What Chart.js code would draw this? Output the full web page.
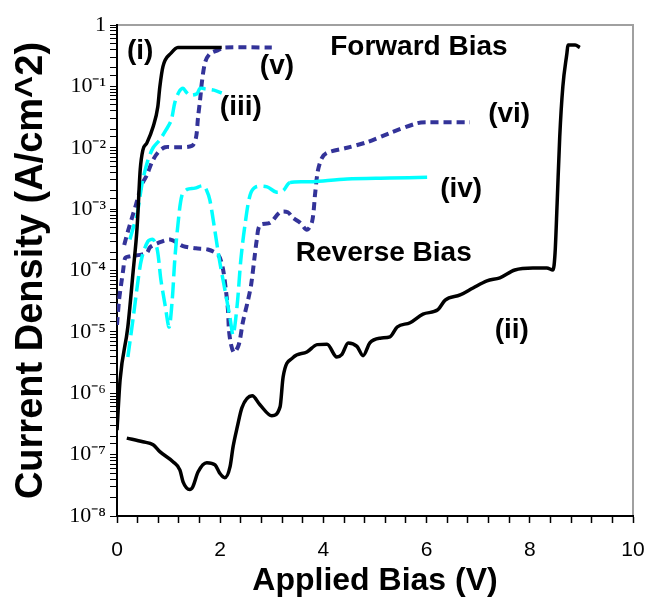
<!DOCTYPE html>
<html>
<head>
<meta charset="utf-8">
<script src="https://cdn.jsdelivr.net/npm/chart.js@4.4.1/dist/chart.umd.min.js"></script>
<style>
  body { margin: 0; background: #fff; }
  #wrap { width: 647px; height: 600px; }
</style>
</head>
<body>
<div id="wrap"><canvas id="grafico"></canvas></div>
<script>
// Curva (i) - forward, preta
const biasI = [0, 0.06, 0.21, 0.31, 0.39, 0.45, 0.50, 0.58, 0.70, 0.79, 0.83, 0.89, 1.05, 1.18, 2.03];
const densI = [2.5e-7, 1.66e-6, 1.2e-5, 9.1e-5, 5.1e-4, 4.4e-3, 9.1e-3, 1.2e-2, 2.2e-2, 4.6e-2, 9.8e-2, 0.21, 0.35, 0.43, 0.43];

// Curva (ii) - reverse, preta
const biasII = [0.19, 0.50, 0.70, 0.83, 1.09, 1.22, 1.28, 1.41, 1.47, 1.57, 1.74, 1.90, 1.99, 2.09, 2.19, 2.25, 2.33, 2.42, 2.62, 2.77,
  3.00, 3.16, 3.22, 3.41, 3.68, 3.88, 4.07, 4.26, 4.36, 4.48, 4.65, 4.77, 4.90, 5.10, 5.29, 5.43, 5.68, 5.93, 6.22, 6.36,
  6.65, 6.90, 7.17, 7.42, 7.71, 8.06, 8.33, 8.45, 8.49, 8.53, 8.58, 8.64, 8.72, 8.74, 8.88, 8.97];
const densII = [1.86e-7, 1.62e-7, 1.45e-7, 1.12e-7, 7.6e-8, 5.6e-8, 3.6e-8, 2.7e-8, 3.0e-8, 5.2e-8, 7.4e-8, 6.8e-8, 5.0e-8, 4.2e-8, 6.3e-8, 1.35e-7, 2.8e-7, 5.8e-7, 9.1e-7, 6.5e-7,
  4.3e-7, 6.0e-7, 1.86e-6, 3.8e-6, 4.7e-6, 6.2e-6, 6.3e-6, 3.9e-6, 4.3e-6, 6.6e-6, 5.8e-6, 4.1e-6, 6.6e-6, 7.9e-6, 8.3e-6, 1.2e-5, 1.41e-5, 1.95e-5, 2.3e-5, 3.3e-5,
  4.0e-5, 5.2e-5, 6.8e-5, 7.6e-5, 1.02e-4, 1.1e-4, 1.1e-4, 1.02e-4, 1.95e-4, 1.26e-3, 1.5e-2, 9.8e-2, 0.35, 0.47, 0.47, 0.43];

// Curva (iii) - forward, ciano
const biasIII = [0.25, 0.33, 0.39, 0.45, 0.50, 0.60, 0.70, 0.83, 0.95, 1.05, 1.12, 1.20, 1.28, 1.34, 1.41, 1.55, 1.61, 1.71, 1.88, 2.03];
const densIII = [3.2e-4, 5.5e-4, 8.1e-4, 1.7e-3, 3.0e-3, 6.3e-3, 1.0e-2, 1.35e-2, 1.95e-2, 2.8e-2, 5.4e-2, 8.1e-2, 9.3e-2, 8.1e-2, 7.2e-2, 7.6e-2, 9.3e-2, 9.1e-2, 8.7e-2, 7.8e-2];

// Curva (iv) - reverse, ciano
const biasIV = [0.21, 0.31, 0.41, 0.48, 0.60, 0.70, 0.78, 0.85, 0.93, 1.01, 1.07, 1.12, 1.18, 1.26, 1.36, 1.51, 1.67, 1.74, 1.80, 1.88,
  1.99, 2.11, 2.19, 2.25, 2.33, 2.40, 2.48, 2.58, 2.69, 2.91, 3.08, 3.22, 3.35, 3.80, 4.46, 5.29, 6.01];
const densIV = [3.9e-6, 1.6e-5, 7.1e-5, 1.6e-4, 3.0e-4, 3.2e-4, 2.2e-4, 7.1e-5, 2.8e-5, 1.2e-5, 3.3e-5, 1.5e-4, 5.5e-4, 1.7e-3, 2.1e-3, 2.2e-3, 2.4e-3, 2.0e-3, 1.4e-3, 5.5e-4,
  1.4e-4, 4.0e-5, 1.7e-5, 8.9e-6, 2.8e-5, 1.5e-4, 5.5e-4, 1.7e-3, 2.3e-3, 2.3e-3, 1.9e-3, 2.0e-3, 2.7e-3, 2.8e-3, 3.1e-3, 3.2e-3, 3.3e-3];

// Curva (v) - forward, azul
const biasV = [0.14, 0.21, 0.29, 0.37, 0.48, 0.58, 0.68, 0.79, 0.93, 1.12, 1.45, 1.53, 1.57, 1.61, 1.65, 1.71, 1.80, 1.96, 2.09, 3.00];
const densV = [2.6e-4, 4.3e-4, 7.2e-4, 1.2e-3, 2.5e-3, 3.6e-3, 5.9e-3, 8.3e-3, 1.02e-2, 1.02e-2, 1.07e-2, 1.45e-2, 3.1e-2, 6.0e-2, 0.126, 0.25, 0.34, 0.39, 0.43, 0.43];

// Curva (vi) - reverse, azul
const biasVI = [0, 0.04, 0.08, 0.12, 0.16, 0.25, 0.45, 0.58, 0.64, 0.79, 1.03, 1.28, 1.53, 1.76, 1.96, 2.05, 2.11, 2.15, 2.17, 2.21,
  2.27, 2.36, 2.44, 2.54, 2.60, 2.66, 2.71, 2.77, 2.97, 3.16, 3.31, 3.41, 3.55, 3.68, 3.78, 3.84, 3.89, 3.97, 4.07, 4.46,
  4.84, 5.29, 5.81, 6.01, 6.84];
const densVI = [1.3e-5, 3.3e-5, 5.9e-5, 1.02e-4, 1.6e-4, 1.7e-4, 1.8e-4, 1.95e-4, 2.4e-4, 2.8e-4, 3.2e-4, 2.5e-4, 2.3e-4, 2.2e-4, 1.8e-4, 1.1e-4, 4.8e-5, 2.3e-5, 1.07e-5, 6.2e-6,
  4.6e-6, 6.2e-6, 1.45e-5, 3.3e-5, 5.9e-5, 1.5e-4, 3.2e-4, 5.5e-4, 6.0e-4, 8.9e-4, 8.9e-4, 7.2e-4, 6.0e-4, 4.6e-4, 6.2e-4, 1.8e-3, 4.1e-3, 6.8e-3, 8.3e-3, 1.0e-2,
  1.23e-2, 1.74e-2, 2.5e-2, 2.6e-2, 2.6e-2];

// Textos dentro do gráfico
const notaTexto = ['(i)', '(v)', '(iii)', 'Forward Bias', '(vi)', '(iv)', 'Reverse Bias', '(ii)'];
const notaX = [0.45, 3.10, 2.40, 5.85, 7.60, 6.67, 5.17, 7.65];
const notaY = [0.38, 0.21, 0.046, 0.44, 0.035, 2.1e-3, 1.9e-4, 1.07e-5];

// Rótulos do eixo Y
const potencias = ['1', '10⁻¹', '10⁻²', '10⁻³', '10⁻⁴', '10⁻⁵', '10⁻⁶', '10⁻⁷', '10⁻⁸'];

function pontos(xs, ys) {
  return xs.map((x, i) => ({ x: x, y: ys[i] }));
}

const PRETO = '#000000';
const CIANO = '#00FFFF';
const AZUL = '#333399';

const moldura = { // borda cinza da área do gráfico
  id: 'moldura',
  beforeDraw(chart) {
    const a = chart.chartArea;
    const ctx = chart.ctx;
    ctx.save();
    ctx.strokeStyle = '#a0a0a0';
    ctx.lineWidth = 2;
    ctx.strokeRect(a.left, a.top, a.right - a.left, a.bottom - a.top);
    ctx.restore();
  }
};

const notas = { // (i), (ii), Forward Bias...
  id: 'notas',
  afterDatasetsDraw(chart) {
    const ctx = chart.ctx;
    ctx.save();
    ctx.fillStyle = '#000';
    ctx.font = 'bold 28px "Liberation Sans", Arial, sans-serif';
    ctx.textAlign = 'center';
    ctx.textBaseline = 'middle';
    notaTexto.forEach((t, i) => {
      ctx.fillText(t, chart.scales.x.getPixelForValue(notaX[i]), chart.scales.y.getPixelForValue(notaY[i]));
    });
    ctx.restore();
  }
};

new Chart(document.getElementById('grafico'), {
  type: 'scatter',
  data: {
    datasets: [
      { label: '(i)', data: pontos(biasI, densI), borderColor: PRETO, borderWidth: 3.5, cubicInterpolationMode: 'monotone' },
      { label: '(ii)', data: pontos(biasII, densII), borderColor: PRETO, borderWidth: 3.5, cubicInterpolationMode: 'monotone' },
      { label: '(iii)', data: pontos(biasIII, densIII), borderColor: CIANO, borderWidth: 3.5, borderDash: [16, 6] },
      {
        label: '(iv)', data: pontos(biasIV, densIV), borderColor: CIANO, borderWidth: 3.5, borderDash: [16, 6],
        segment: { borderDash: c => c.p0.parsed.x >= 3.3 ? [] : undefined }
      },
      { label: '(v)', data: pontos(biasV, densV), borderColor: AZUL, borderWidth: 4, borderDash: [8, 5] },
      { label: '(vi)', data: pontos(biasVI, densVI), borderColor: AZUL, borderWidth: 4, borderDash: [8, 5] }
    ]
  },
  options: {
    responsive: true,
    maintainAspectRatio: false,
    animation: false,
    showLine: true,
    layout: { padding: { top: 25, right: 14, left: 0, bottom: 0 } },
    elements: { point: { radius: 0, hoverRadius: 0 }, line: { tension: 0.3 } },
    scales: {
      x: {
        type: 'linear',
        min: 0,
        max: 10,
        afterFit: s => { s.height = 84; s.paddingRight = 0; s.paddingLeft = 0; },
        border: { display: true, color: '#000', width: 2 },
        grid: { drawOnChartArea: false, drawTicks: true, tickLength: 7, color: '#000', tickWidth: 1.5 },
        ticks: {
          stepSize: 0.4,
          autoSkip: false,
          maxRotation: 0,
          padding: 15,
          color: '#000',
          font: { family: '"Liberation Sans", Arial, sans-serif', size: 21 },
          callback: v => Math.abs(v / 2 - Math.round(v / 2)) < 1e-6 ? String(Math.round(v)) : ''
        },
        title: {
          display: true,
          text: 'Applied Bias (V)',
          color: '#000',
          font: { family: '"Liberation Sans", Arial, sans-serif', size: 32, weight: 'bold' },
          padding: { top: 0, bottom: 0 }
        }
      },
      y: {
        type: 'logarithmic',
        min: 1e-8,
        max: 1,
        afterFit: s => { s.width = 117; },
        border: { display: true, color: '#000', width: 2 },
        grid: { drawOnChartArea: false, drawTicks: true, tickLength: 7, color: '#000', tickWidth: 1 },
        ticks: {
          autoSkip: false,
          padding: 4,
          color: '#000',
          font: { family: '"Liberation Serif", "Times New Roman", serif', size: 22 },
          callback: v => {
            const e = Math.log10(v);
            if (Math.abs(e - Math.round(e)) > 1e-9) return '';
            return potencias[-Math.round(e)];
          }
        },
        title: {
          display: true,
          text: 'Current Density (A/cm^2)',
          color: '#000',
          font: { family: '"Liberation Sans", Arial, sans-serif', size: 38, weight: 'bold' },
          padding: { top: 9, bottom: 0 }
        }
      }
    },
    plugins: {
      legend: { display: false },
      tooltip: { enabled: false }
    }
  },
  plugins: [moldura, notas]
});
</script>
</body>
</html>
